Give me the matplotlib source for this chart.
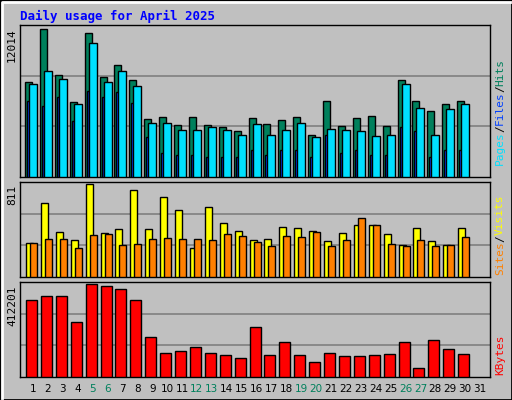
import matplotlib
matplotlib.use('Agg')
import matplotlib.pyplot as plt
import numpy as np

days = list(range(1, 31))
weekend_days = [5, 6, 12, 13, 19, 20, 26, 27]

hits = [7714, 12014, 8282, 6090, 11693, 8120, 9094, 7876, 4710, 4872, 4222, 4872, 4222, 4060, 3735,
        4791, 4304, 4628, 4872, 3410, 6171, 4141, 4791, 4953, 4141, 7876, 6171, 5359, 5928, 6171]
files = [6171, 5765, 6496, 4547, 6983, 6496, 6902, 6009, 3248, 1949, 1786, 1786, 1624, 1624, 1624,
         2192, 1786, 2192, 2192, 1624, 3410, 1949, 2192, 1786, 1786, 4060, 3735, 1624, 2192, 2192]
pages = [7552, 8607, 7958, 5928, 10881, 7714, 8607, 7389, 4385, 4385, 3816, 3816, 4060, 3816, 3410,
         4304, 3410, 3816, 4385, 3248, 3898, 3816, 3735, 3329, 3410, 7552, 5603, 3410, 5522, 5928]
visits = [296, 645, 392, 323, 811, 384, 419, 759, 419, 698, 584, 253, 610, 471, 401,
          323, 331, 436, 427, 401, 314, 384, 453, 453, 375, 279, 427, 314, 279, 427]
sites = [296, 331, 331, 253, 366, 375, 279, 288, 331, 340, 331, 331, 323, 375, 357,
         305, 270, 357, 349, 392, 270, 323, 515, 453, 288, 270, 323, 270, 279, 349]
kbytes = [341300, 359000, 359000, 243800, 412201, 403300, 390000, 341300, 177300, 106400,
          115200, 133000, 106400, 97500, 84200, 221600, 97500, 155100, 97500, 66500,
          106400, 93100, 93100, 97500, 101900, 155100, 39900, 164000, 124100, 101900]

W, H = 512, 400
BG = '#C0C0C0'
fig = plt.figure(figsize=(W / 100, H / 100), dpi=100, facecolor=BG)

# bevelled outer border
fig.add_artist(plt.Rectangle((0, 0), 1, 1, transform=fig.transFigure, fill=False,
                             edgecolor='black', linewidth=2))
fig.add_artist(plt.Line2D([2 / W, 2 / W, 1 - 2 / W], [2 / H, 1 - 2 / H, 1 - 2 / H],
                          transform=fig.transFigure, color='white', linewidth=2))


def panel(top, bottom):
    return fig.add_axes([20 / W, 1 - bottom / H, 470 / W, (bottom - top) / H], facecolor=BG)


x = np.array(days, dtype=float)
px = 1 / 14.9

ax1 = panel(25, 177)
ax2 = panel(182, 277)
ax3 = panel(282, 377)

ax1.bar(x - 8 * px, hits, 7 * px, align='edge', color='#00805C', edgecolor='black', linewidth=1, zorder=3)
ax1.bar(x - 6 * px, files, 2.5 * px, align='edge', color='#0040FF', edgecolor='black', linewidth=1, zorder=4)
ax1.bar(x - 4 * px, pages, 8 * px, align='edge', color='#00E0FF', edgecolor='black', linewidth=1, zorder=5)
ax1.set_ylim(0, 12014 * 152 / 148)

ax2.bar(x - 7 * px, visits, 7 * px, align='edge', color='#FFFF00', edgecolor='black', linewidth=1, zorder=3)
ax2.bar(x - 3 * px, sites, 7 * px, align='edge', color='#FF8000', edgecolor='black', linewidth=1, zorder=4)
ax2.set_ylim(0, 811 * 95 / 93)

ax3.bar(x - 7 * px, kbytes, 11 * px, align='edge', color='#FF0000', edgecolor='black', linewidth=1, zorder=3)
ax3.set_ylim(0, 412201 * 95 / 93)

for ax in (ax1, ax2, ax3):
    ax.set_xlim(1 - 13 * px, 1 + 457 * px)
    ax.set_xticks([])
    ax.set_yticks([])
    for f in (1 / 3, 2 / 3):
        ax.axhline(f * ax.get_ylim()[1], color='#808080', linewidth=1.2, zorder=1)
    for s in ax.spines.values():
        s.set_color('black')
        s.set_linewidth(1)

fig.text(20 / W, 1 - 16 / H, 'Daily usage for April 2025', color='#0000FF', fontsize=9,
         fontweight='bold', family='DejaVu Sans Mono', va='center')

mono = dict(family='DejaVu Sans Mono', fontsize=8, rotation=90, ha='center')
fig.text(12 / W, 1 - 28 / H, '12014', va='top', **mono)
fig.text(12 / W, 1 - 185 / H, '811', va='top', **mono)
fig.text(12 / W, 1 - 285 / H, '412201', va='top', **mono)


def right_label(y_bottom, parts):
    y = y_bottom
    for txt, col in parts:
        t = fig.text(500 / W, 1 - y / H, txt, color=col, va='bottom', **mono)
        y -= len(txt) * 6.6


right_label(165, [('Pages', '#00E0FF'), ('/', 'black'), ('Files', '#0040FF'), ('/', 'black'), ('Hits', '#00805C')])
right_label(275, [('Sites', '#FF8000'), ('/', 'black'), ('Visits', '#FFFF00')])
right_label(375, [('KBytes', '#FF0000')])

for d in range(1, 32):
    col = '#00805C' if d in weekend_days else 'black'
    fig.text((33 + (d - 1) * 14.9) / W, 1 - 389 / H, str(d), color=col, fontsize=7.5,
             ha='center', va='center')

fig.savefig('out.png', dpi=100, facecolor=BG)
